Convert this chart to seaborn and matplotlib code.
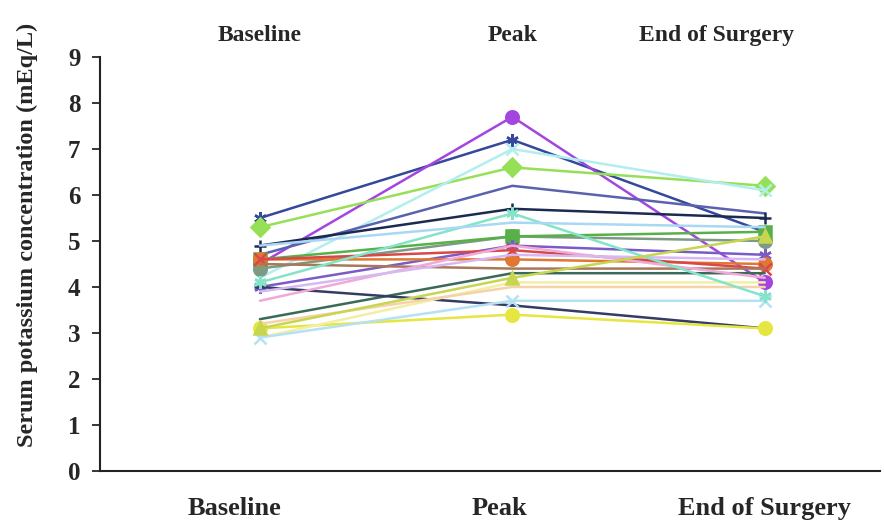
import matplotlib
matplotlib.use("Agg")
import matplotlib.pyplot as plt
import seaborn as sns
import pandas as pd

timepoints = ["Baseline", "Peak", "End of Surgery"]

p01 = [5.5, 7.2, 5.2]
p02 = [4.5, 7.7, 4.1]
p03 = [5.3, 6.6, 6.2]
p04 = [4.2, 7.0, 6.1]
p05 = [4.7, 6.2, 5.6]
p06 = [4.9, 5.7, 5.5]
p07 = [4.4, 5.1, 5.0]
p08 = [4.6, 5.1, 5.2]
p09 = [4.0, 4.9, 4.7]
p10 = [4.6, 4.6, 4.5]
p11 = [4.6, 4.8, 4.4]
p12 = [4.5, 4.4, 4.4]
p13 = [3.3, 4.3, 4.3]
p14 = [4.0, 3.6, 3.1]
p15 = [3.1, 3.4, 3.1]
p16 = [2.9, 4.1, 4.1]
p17 = [3.2, 4.0, 4.0]
p18 = [2.9, 3.7, 3.7]
p19 = [3.7, 4.9, 4.2]
p20 = [3.9, 4.7, 4.6]
p21 = [4.1, 5.6, 3.8]
p22 = [4.9, 5.4, 5.3]
p23 = [3.1, 4.2, 5.1]

series = [p01, p02, p03, p04, p05, p06, p07, p08, p09, p10, p11, p12,
          p13, p14, p15, p16, p17, p18, p19, p20, p21, p22, p23]
names = [f"P{i+1}" for i in range(len(series))]

colors = ["#34489c", "#a445e0", "#96e058", "#b2eeee", "#5a62b0", "#1c2a52",
          "#7c9a84", "#58b048", "#7a5cc8", "#e07832", "#d84848", "#a8785a",
          "#3a6a58", "#343c64", "#e6e640", "#f2eea6", "#f6d2a8", "#b4e2f2",
          "#f2a8d8", "#d6b8f2", "#84e4c8", "#a8d8f2", "#c6d650"]
markers = [(6, 2, 0), "o", "D", "x", None, "+", "o", "s", (6, 2, 0), "o",
           "x", None, None, "_", "o", None, None, "x", None, None, (6, 2, 0),
           None, "^"]

# label placements (in data x units) as they appear in the figure
top_label_pos = [0.0, 1.0, 1.81]
bottom_label_pos = [-0.1, 0.95, 2.0]

rows = []
for name, vals in zip(names, series):
    for i, v in enumerate(vals):
        rows.append({"patient": name, "pos": i, "time": timepoints[i], "value": v})
df = pd.DataFrame(rows)

sns.set_theme(style="white")
plt.rcParams["font.family"] = ["Liberation Serif", "DejaVu Serif"]
plt.rcParams["font.weight"] = "bold"

fig = plt.figure(figsize=(8.84, 5.26), dpi=100)
ax = fig.add_axes([0.113, 0.1046, 0.882, 0.787])

for name, c, m in zip(names, colors, markers):
    sub = df[df["patient"] == name]
    kw = {}
    if m is not None:
        kw = dict(marker=m, markersize=9, markeredgewidth=1.8,
                  markeredgecolor=c, markerfacecolor=c)
    sns.lineplot(data=sub, x="pos", y="value", color=c, linewidth=1.8,
                 ax=ax, legend=False, estimator=None, sort=False, **kw)

ax.set_xlim(-0.634, 2.455)
ax.set_ylim(0, 9)
ax.set_yticks(range(0, 10))
ax.set_yticklabels([str(i) for i in range(10)], fontsize=18, fontweight="bold")
ax.set_xticks(bottom_label_pos)
ax.set_xticklabels(timepoints, fontsize=19, fontweight="bold")
ax.tick_params(axis="x", length=0, pad=19)
ax.tick_params(axis="y", direction="out", length=6, width=1.3, left=True, pad=8)
ax.set_xlabel("")
ax.set_ylabel("Serum potassium concentration (mEq/L)", fontsize=17.5,
              fontweight="bold")
ax.yaxis.set_label_coords(-0.079, 0.57)

for s in ["top", "right"]:
    ax.spines[s].set_visible(False)
for s in ["left", "bottom"]:
    ax.spines[s].set_color("#222222")
    ax.spines[s].set_linewidth(1.5)

top = ax.secondary_xaxis("top")
top.set_xticks(top_label_pos)
top.set_xticklabels(timepoints, fontsize=17, fontweight="bold")
top.tick_params(length=0, pad=8)
top.spines["top"].set_visible(False)

fig.savefig("out.png", dpi=100, facecolor="white")
